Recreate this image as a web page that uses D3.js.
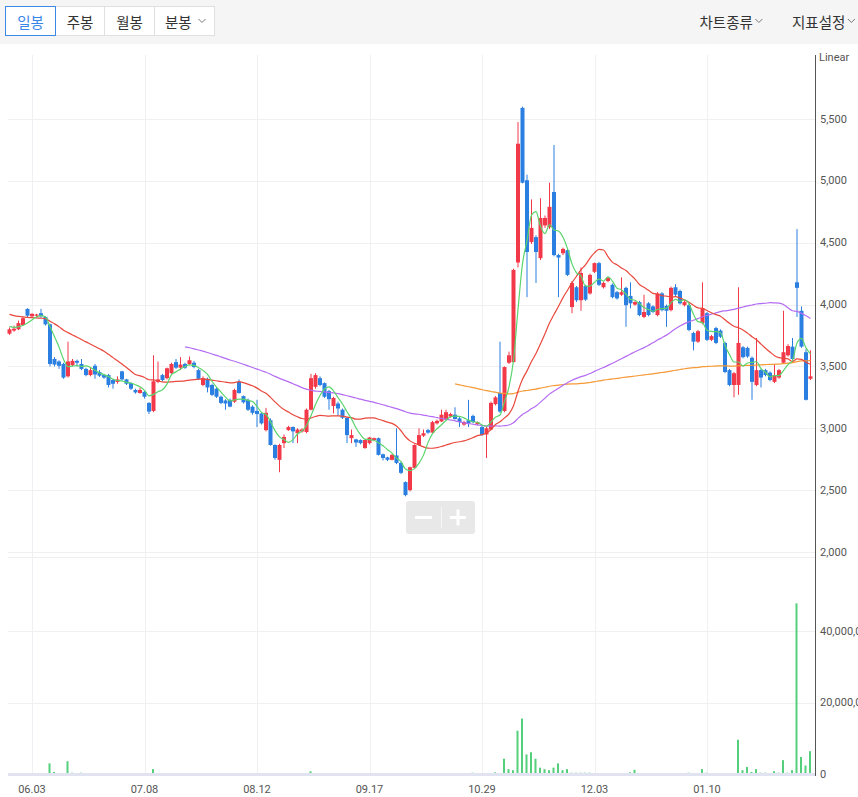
<!DOCTYPE html>
<html><head><meta charset="utf-8">
<script src="https://cdn.jsdelivr.net/npm/d3@7"></script>
<style>
html,body{margin:0;padding:0;background:#fff;}
svg{display:block;}
</style></head><body>
<svg id="c" width="858" height="797"></svg>
<script>
// ---------- DATA ----------
const opens = [3765,3790,3800,3835,3965,3905,3910,3930,3900,3840,3560,3540,3520,3420,3510,3545,3520,3480,3430,3505,3455,3430,3430,3390,3375,3460,3395,3365,3310,3285,3295,3205,3140,3375,3430,3405,3445,3535,3490,3520,3520,3530,3470,3350,3400,3350,3320,3255,3225,3230,3215,3375,3260,3230,3175,3140,3120,2985,3065,2865,2745,2880,2985,3010,2960,2975,2970,3150,3335,3405,3365,3300,3180,3200,3150,3085,2920,2910,2905,2840,2880,2905,2920,2790,2765,2745,2780,2720,2565,2500,2680,2865,2940,2985,2965,3040,3055,3070,3095,3110,3080,3030,3065,3100,3035,3010,2950,2990,3195,3285,3140,3530,3535,4340,5590,5005,4505,4545,4375,4640,4625,4910,4400,4415,4440,3980,4140,4035,4150,4090,4265,4335,4140,4190,4160,4100,4080,4135,4070,4000,4020,3900,4010,3985,3915,4090,3990,3955,4140,4110,3995,3995,3770,3700,3850,3930,3715,3810,3790,3690,3470,3350,3350,3655,3650,3570,3350,3470,3470,3450,3375,3410,3530,3590,3660,4180,3950,3615,3400];
const highs = [3815,3830,3870,3900,3970,3930,3925,3965,3905,3845,3575,3550,3530,3700,3560,3555,3560,3490,3490,3520,3470,3440,3440,3400,3420,3465,3400,3370,3320,3330,3300,3210,3590,3540,3440,3490,3530,3560,3575,3530,3580,3545,3480,3420,3410,3360,3330,3265,3235,3240,3320,3395,3265,3240,3185,3230,3130,3165,3080,2870,2875,2950,3020,3015,3000,3000,3160,3440,3445,3420,3370,3310,3255,3215,3160,3090,2990,2915,2910,2910,2930,2925,2925,2795,2770,2790,3000,2730,2570,2690,2870,3000,2990,2995,3060,3070,3150,3150,3125,3170,3090,3060,3230,3110,3055,3020,3010,3215,3260,3700,3500,3620,4290,5475,5600,5050,4850,4560,4860,4720,4985,5290,4410,4460,4450,4190,4150,4300,4160,4250,4340,4345,4185,4225,4170,4110,4220,4145,4180,4030,4030,4080,4020,3995,4100,4100,4000,4145,4165,4120,4030,4005,3780,3795,4180,3940,3755,3820,3800,3700,3480,3455,4140,3665,3660,3580,3730,3480,3480,3460,3520,3480,3950,3680,3730,4610,3985,3640,3630];
const lows = [3755,3780,3795,3830,3900,3895,3900,3895,3830,3500,3500,3480,3400,3410,3500,3500,3470,3420,3420,3400,3415,3400,3330,3320,3360,3385,3350,3310,3280,3280,3240,3115,3130,3365,3380,3395,3440,3480,3470,3480,3510,3485,3390,3340,3290,3260,3245,3195,3150,3170,3205,3280,3200,3140,3110,3010,3030,2975,2860,2745,2645,2840,2980,2880,2880,2965,2960,3145,3320,3340,3245,3150,3120,3100,3075,2880,2880,2850,2870,2835,2870,2895,2780,2740,2735,2740,2710,2630,2450,2490,2675,2860,2930,2955,2960,3030,3050,3065,3085,3070,3010,3020,3010,3040,3025,2940,2760,2985,3185,3125,3130,3520,3530,4300,4980,4060,4490,4175,4360,4620,4610,4390,4060,4400,4230,3930,4020,3950,4030,4080,4255,4150,4130,4180,4050,4040,4070,3820,3970,3990,3905,3890,3905,3930,3905,3945,3820,3945,4070,4000,3985,3785,3630,3690,3840,3705,3705,3680,3730,3445,3340,3250,3270,3565,3570,3230,3340,3330,3420,3380,3365,3400,3520,3580,3550,3900,3650,3225,3390];
const closes = [3800,3805,3850,3890,3910,3925,3920,3905,3840,3520,3515,3505,3410,3540,3545,3530,3480,3430,3470,3435,3425,3410,3350,3360,3395,3395,3360,3320,3290,3310,3255,3135,3380,3395,3390,3485,3520,3490,3515,3490,3550,3495,3400,3405,3330,3270,3255,3205,3200,3175,3310,3285,3210,3150,3125,3115,3040,3125,2865,2760,2865,2930,3010,2975,2990,2990,3150,3405,3430,3350,3255,3235,3245,3160,3085,2945,2945,2885,2880,2905,2925,2920,2785,2760,2745,2785,2720,2640,2460,2685,2865,2945,2960,2965,3050,3060,3110,3130,3115,3075,3050,3050,3040,3050,3050,2945,3000,3205,3250,3135,3495,3590,4280,5300,4985,4425,4620,4425,4700,4700,4790,4400,4380,4450,4240,4175,4035,4255,4040,4240,4335,4160,4175,4215,4060,4050,4100,3995,4010,4020,3915,3940,3915,3940,4090,3955,3950,4135,4080,4010,4020,3795,3700,3785,3970,3715,3745,3690,3740,3455,3350,3445,3690,3575,3580,3375,3470,3410,3430,3390,3430,3470,3615,3665,3560,4135,3660,3230,3420];
const volumes = [300000,200000,300000,300000,400000,200000,200000,300000,400000,3100000,700000,300000,400000,3700000,500000,300000,500000,200000,200000,200000,100000,100000,200000,100000,100000,200000,100000,100000,100000,100000,200000,300000,1500000,400000,200000,200000,200000,200000,100000,100000,200000,100000,200000,100000,200000,100000,100000,100000,100000,100000,200000,100000,100000,100000,100000,100000,100000,100000,200000,200000,200000,100000,100000,100000,100000,100000,300000,900000,400000,200000,200000,200000,100000,100000,100000,200000,100000,100000,100000,100000,100000,100000,200000,100000,100000,100000,200000,200000,300000,300000,300000,200000,100000,100000,200000,100000,200000,100000,100000,100000,100000,100000,300000,500000,100000,200000,300000,300000,600000,400000,4400000,1500000,1200000,12200000,15600000,5600000,6200000,4400000,1900000,1500000,1200000,1900000,3100000,1200000,1500000,500000,500000,500000,500000,500000,400000,400000,200000,200000,100000,100000,100000,200000,600000,1300000,100000,100000,100000,100000,100000,100000,100000,200000,100000,100000,100000,500000,300000,200000,1500000,500000,200000,200000,100000,200000,200000,200000,9700000,1200000,2100000,700000,1500000,500000,500000,300000,900000,500000,4000000,500000,1200000,47700000,4900000,2500000,6500000];
// closes of the 20 sessions before the first visible one (estimated from the moving-average lines)
const priorCloses = [3990,4010,3970,3950,4000,3980,3940,3960,3920,3950,3930,3970,3960,3940,3920,3890,3850,3820,3840,3810];
const priceTicks = [2000,2500,3000,3500,4000,4500,5000,5500];
const volumeTicks = [0,20000000,40000000];
const dateTickIndex = [5,30,55,80,105,130,155];
const dateTickLabels = ["06.03","07.08","08.12","09.17","10.29","12.03","01.10"];
const maPeriods = [5,20,60,120];
const periodTabs = ["일봉","주봉","월봉","분봉"];
const menuItems = ["차트종류","지표설정"];

// ---------- STYLE ----------
const UP = "#f2394a", DOWN = "#2b7fe0", VOL = "#55cf7c";
const maColors = {5:"#5ad46c",20:"#e9483d",60:"#b46df2",120:"#f59a37"};
const numFont = "Roboto, 'Noto Sans', sans-serif";
const krFont = "'Noto Sans CJK KR', 'Noto Sans', sans-serif";

const svg = d3.select("#c");
const W = 858;
const plotL = 8, plotR = 815;
const n = closes.length;

const x = d3.scaleBand().domain(d3.range(n)).range([7.25, 7.25 + 4.5 * n]).padding(0);
const xc = i => x(i) + x.bandwidth() / 2;
const y = d3.scaleLinear().domain([2000, 5500]).range([552, 119]);
const yv = d3.scaleLinear().domain([0, 40000000]).range([774.5, 631]);

svg.append("rect").attr("width", W).attr("height", 797).attr("fill", "#fff");

// ---------- grid ----------
const grid = svg.append("g");
grid.selectAll(".vg").data(dateTickIndex).join("line")
  .attr("x1", d => Math.round(xc(d)) + 0.5).attr("x2", d => Math.round(xc(d)) + 0.5)
  .attr("y1", 55).attr("y2", 774).attr("stroke", "#eff0f4").attr("stroke-width", 1);
grid.selectAll(".hg").data(priceTicks).join("line")
  .attr("x1", plotL).attr("x2", plotR)
  .attr("y1", d => Math.round(y(d)) + 0.5).attr("y2", d => Math.round(y(d)) + 0.5)
  .attr("stroke", "#f0f0f0");
grid.selectAll(".vhg").data(volumeTicks.slice(1)).join("line")
  .attr("x1", plotL).attr("x2", plotR)
  .attr("y1", d => Math.round(yv(d)) + 0.5).attr("y2", d => Math.round(yv(d)) + 0.5)
  .attr("stroke", "#f0f0f0");
grid.append("line").attr("x1", plotL).attr("x2", plotR).attr("y1", 557.5).attr("y2", 557.5).attr("stroke", "#eeeeee");

// ---------- candles ----------
const bw = 4;
const cg = svg.append("g");
const idx = d3.range(n);
const col = i => closes[i] >= opens[i] ? UP : DOWN;
cg.selectAll(".wick").data(idx).join("line")
  .attr("x1", i => xc(i)).attr("x2", i => xc(i))
  .attr("y1", i => y(highs[i])).attr("y2", i => y(lows[i]))
  .attr("stroke", col).attr("stroke-width", 1);
cg.selectAll(".body").data(idx).join("rect")
  .attr("x", i => xc(i) - bw / 2).attr("width", bw)
  .attr("y", i => y(Math.max(opens[i], closes[i])))
  .attr("height", i => Math.max(1, Math.abs(y(opens[i]) - y(closes[i]))))
  .attr("fill", col);

// ---------- moving averages ----------
const allCloses = priorCloses.concat(closes);
const off = priorCloses.length;
function movingAverage(p) {
  const out = [];
  for (let i = 0; i < n; i++) {
    const j = i + off;
    if (j - p + 1 < 0) continue;
    out.push([i, d3.mean(allCloses.slice(j - p + 1, j + 1))]);
  }
  return out;
}
const line = d3.line().x(d => xc(d[0])).y(d => y(d[1])).curve(d3.curveMonotoneX);
[120, 60, 20, 5].forEach(p => {
  svg.append("path").datum(movingAverage(p)).attr("d", line)
    .attr("fill", "none").attr("stroke", maColors[p]).attr("stroke-width", 1.2);
});

// ---------- volume ----------
svg.append("g").selectAll("rect").data(idx).join("rect")
  .attr("x", i => xc(i) - 1.5).attr("width", 2)
  .attr("y", i => Math.max(558, yv(volumes[i])))
  .attr("height", i => yv(0) - Math.max(558, yv(volumes[i])))
  .attr("fill", VOL);
svg.append("rect").attr("x", plotL).attr("width", plotR - plotL).attr("y", 773).attr("height", 3).attr("fill", "#e2e3f0");

// ---------- axes ----------
svg.append("line").attr("x1", 815.5).attr("x2", 815.5).attr("y1", 55).attr("y2", 776).attr("stroke", "#555").attr("stroke-width", 1);
const axR = svg.append("g").attr("font-family", numFont).attr("font-size", 11).attr("fill", "#555");
axR.append("text").attr("x", 819).attr("y", 57).attr("dominant-baseline", "central").text("Linear");
axR.selectAll(".pt").data(priceTicks).join("text")
  .attr("x", 820).attr("y", d => y(d)).attr("dominant-baseline", "central")
  .text(d => d3.format(",")(d));
axR.selectAll(".vt").data(volumeTicks).join("text")
  .attr("x", 820).attr("y", d => yv(d)).attr("dominant-baseline", "central")
  .text(d => d3.format(",")(d));
svg.append("g").attr("font-family", numFont).attr("font-size", 11).attr("fill", "#555")
  .selectAll("text").data(dateTickIndex).join("text")
  .attr("x", d => xc(d)).attr("y", 789).attr("text-anchor", "middle").attr("dominant-baseline", "central")
  .text((d, k) => dateTickLabels[k]);

// ---------- zoom control ----------
const zc = svg.append("g");
zc.append("rect").attr("x", 406).attr("y", 501).attr("width", 69).attr("height", 33).attr("rx", 3).attr("fill", "#e8e8e8");
zc.append("line").attr("x1", 415).attr("x2", 432).attr("y1", 517.5).attr("y2", 517.5).attr("stroke", "#fff").attr("stroke-width", 3);
zc.append("line").attr("x1", 441.5).attr("x2", 441.5).attr("y1", 507).attr("y2", 528).attr("stroke", "#f6f6f6").attr("stroke-width", 1);
zc.append("line").attr("x1", 450).attr("x2", 466).attr("y1", 517.5).attr("y2", 517.5).attr("stroke", "#fff").attr("stroke-width", 3);
zc.append("line").attr("x1", 458).attr("x2", 458).attr("y1", 509.5).attr("y2", 525.5).attr("stroke", "#fff").attr("stroke-width", 3);

// ---------- toolbar ----------
const tb = svg.append("g");
tb.append("rect").attr("width", W).attr("height", 44).attr("fill", "#f5f5f5");
const tabX = [5.5, 55.5, 104.5, 154.5, 214.5];
periodTabs.forEach((t, k) => {
  if (k > 0) tb.append("rect").attr("x", tabX[k]).attr("y", 6.5).attr("width", tabX[k + 1] - tabX[k]).attr("height", 29)
    .attr("fill", "#fff").attr("stroke", "#e0e0e0");
});
tb.append("rect").attr("x", tabX[0]).attr("y", 6.5).attr("width", tabX[1] - tabX[0]).attr("height", 29)
  .attr("fill", "#fff").attr("stroke", "#3d8ae6");
function chevron(cx, cy) {
  tb.append("path").attr("d", `M${cx - 3.5},${cy - 2} L${cx},${cy + 1.5} L${cx + 3.5},${cy - 2}`)
    .attr("fill", "none").attr("stroke", "#777").attr("stroke-width", 1);
}
periodTabs.forEach((t, k) => {
  const last = k === periodTabs.length - 1;
  tb.append("text").attr("x", last ? 165 : (tabX[k] + tabX[k + 1]) / 2).attr("y", 21)
    .attr("text-anchor", last ? "start" : "middle").attr("dominant-baseline", "central")
    .attr("font-family", krFont).attr("font-size", 14.5)
    .attr("fill", k === 0 ? "#3a86e6" : "#333").text(t);
  if (last) chevron(202, 21);
});
const menuX = [699.5, 792];
menuItems.forEach((t, k) => {
  const tx = tb.append("text").attr("x", menuX[k]).attr("y", 21).attr("dominant-baseline", "central")
    .attr("font-family", krFont).attr("font-size", 14.5).attr("fill", "#333").text(t);
  const w = tx.node().getComputedTextLength();
  chevron(menuX[k] + w + 6, 21);
});
</script>
</body></html>
